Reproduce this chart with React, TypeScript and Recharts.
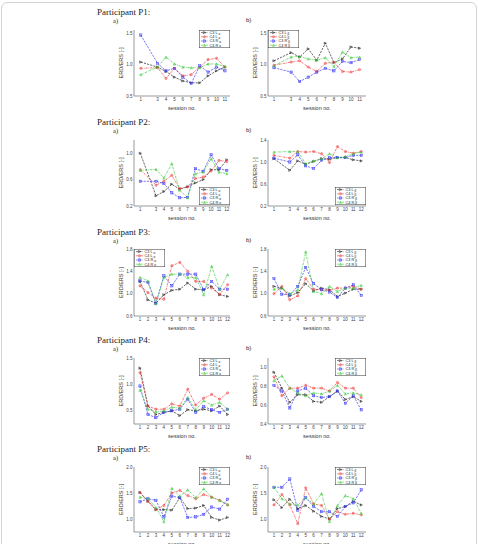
import React from "react";
import { LineChart, Line, XAxis, YAxis, Legend } from "recharts";

// session numbers (P1 has 11 sessions, P2 skips session 2)
const sessions11 = [1, 3, 4, 5, 6, 7, 8, 9, 10, 11];
const sessions12 = [1, 3, 4, 5, 6, 7, 8, 9, 10, 11, 12];
const sessionsAll = [1, 2, 3, 4, 5, 6, 7, 8, 9, 10, 11, 12];

// Participant P1
const p1aC3L = [1.04, 0.96, 0.89, 0.8, 0.74, 0.71, 0.71, 0.82, 0.9, 0.96];
const p1aC4L = [0.94, 0.95, 0.78, 0.94, 0.82, 0.84, 0.96, 1.08, 1.1, 0.96];
const p1aC3R = [1.47, 1.02, 0.9, 0.94, 0.8, 0.7, 0.98, 0.88, 0.96, 0.9];
const p1aC4R = [0.84, 0.96, 1.12, 1.01, 0.96, 0.95, 0.95, 1.01, 1.01, 0.97];
const p1bC3L = [1.06, 1.19, 1.12, 1.25, 1.07, 1.34, 1.03, 1.09, 1.28, 1.26];
const p1bC4L = [0.99, 1.04, 1.06, 0.96, 0.89, 1.02, 1.04, 0.89, 0.88, 0.92];
const p1bC3R = [0.95, 0.88, 0.73, 0.8, 0.88, 0.94, 0.9, 1.05, 1.03, 1.08];
const p1bC4R = [0.98, 1.12, 1.13, 1.09, 1.07, 1.11, 0.97, 1.2, 1.11, 1.12];

// Participant P2
const p2aC3L = [1.0, 0.355, 0.42, 0.53, 0.455, 0.49, 0.55, 0.6, 0.75, 0.75, 0.9];
const p2aC4L = [0.75, 0.515, 0.575, 0.665, 0.465, 0.49, 0.615, 0.64, 0.73, 0.89, 0.875];
const p2aC3R = [0.575, 0.575, 0.54, 0.4, 0.325, 0.33, 0.765, 0.725, 0.975, 0.765, 0.74];
const p2aC4R = [0.74, 0.755, 0.625, 0.84, 0.44, 0.325, 0.69, 0.715, 0.915, 0.715, 0.69];
const p2bC3L = [1.06, 0.85, 1.02, 0.96, 1.01, 1.06, 1.05, 1.08, 1.08, 1.04, 1.02];
const p2bC4L = [1.12, 1.07, 1.19, 1.18, 1.19, 1.15, 0.99, 1.28, 1.19, 1.16, 1.19];
const p2bC3R = [1.07, 1.0, 1.13, 0.93, 0.88, 1.03, 1.08, 1.08, 1.08, 1.12, 1.12];
const p2bC4R = [1.18, 1.19, 1.19, 0.97, 1.02, 1.06, 1.15, 1.08, 1.1, 1.15, 1.18];

// Participant P3
const p3aC3L = [1.22, 0.89, 0.83, 0.98, 1.06, 1.08, 1.19, 1.08, 1.07, 1.13, 0.98, 0.95];
const p3aC4L = [1.14, 1.02, 0.92, 0.9, 1.5, 1.56, 1.4, 1.22, 1.22, 1.1, 0.99, 1.16];
const p3aC3R = [1.23, 1.2, 0.83, 1.32, 1.14, 1.35, 1.35, 1.35, 1.07, 1.22, 1.08, 1.08];
const p3aC4R = [1.29, 1.23, 0.82, 1.29, 1.35, 1.35, 1.29, 1.29, 0.98, 1.49, 1.08, 1.34];
const p3bC3L = [1.13, 1.1, 0.96, 1.02, 1.18, 1.05, 1.1, 1.07, 0.95, 1.01, 1.08, 1.08];
const p3bC4L = [1.0, 1.13, 0.89, 0.96, 1.27, 1.08, 1.07, 1.06, 1.1, 1.1, 1.13, 1.08];
const p3bC3R = [1.27, 0.99, 0.98, 1.13, 1.47, 1.18, 1.07, 1.03, 0.93, 1.1, 1.16, 0.97];
const p3bC4R = [1.08, 1.1, 1.0, 1.07, 1.75, 1.04, 1.0, 1.13, 1.04, 1.1, 1.1, 1.15];

// Participant P4
const p4aC3L = [1.31, 0.59, 0.43, 0.47, 0.5, 0.41, 0.52, 0.5, 0.53, 0.5, 0.59, 0.43];
const p4aC4L = [1.22, 0.59, 0.53, 0.53, 0.63, 0.59, 0.91, 0.61, 0.74, 0.81, 0.72, 0.84];
const p4aC3R = [0.97, 0.43, 0.37, 0.47, 0.5, 0.53, 0.72, 0.47, 0.58, 0.52, 0.47, 0.53];
const p4aC4R = [0.89, 0.53, 0.48, 0.5, 0.57, 0.55, 0.75, 0.52, 0.69, 0.61, 0.66, 0.53];
const p4bC3L = [0.95, 0.78, 0.63, 0.71, 0.71, 0.64, 0.63, 0.69, 0.75, 0.66, 0.69, 0.64];
const p4bC4L = [0.9, 0.7, 0.78, 0.78, 0.81, 0.78, 0.78, 0.75, 0.84, 0.78, 0.78, 0.68];
const p4bC3R = [0.81, 0.75, 0.57, 0.75, 0.78, 0.7, 0.68, 0.69, 0.75, 0.62, 0.7, 0.55];
const p4bC4R = [0.86, 0.91, 0.78, 0.73, 0.7, 0.73, 0.72, 0.75, 0.81, 0.72, 0.73, 0.71];

// Participant P5
const p5aC3L = [1.51, 1.34, 1.18, 1.18, 1.17, 1.41, 1.2, 1.21, 1.26, 1.03, 0.98, 1.03];
const p5aC4L = [1.51, 1.34, 1.18, 1.26, 1.5, 1.55, 1.45, 1.39, 1.47, 1.42, 1.36, 1.27];
const p5aC3R = [1.33, 1.39, 1.36, 1.04, 1.44, 1.41, 1.03, 1.04, 1.09, 1.23, 1.19, 1.38];
const p5aC4R = [1.42, 1.39, 1.22, 0.95, 1.59, 1.44, 1.56, 1.41, 1.58, 1.42, 1.36, 1.28];
const p5bC3L = [1.37, 1.22, 1.38, 1.2, 1.26, 1.15, 1.05, 1.0, 1.2, 1.24, 1.34, 1.27];
const p5bC4L = [1.27, 1.47, 1.27, 0.91, 1.6, 1.29, 1.26, 1.0, 1.14, 1.09, 1.11, 1.08];
const p5bC3R = [1.61, 1.61, 1.77, 1.17, 1.41, 1.24, 1.14, 1.14, 1.05, 1.24, 1.31, 1.56];
const p5bC4R = [1.61, 1.39, 1.29, 1.27, 1.41, 1.29, 1.49, 0.95, 1.26, 1.45, 1.39, 1.11];

const SERIES = [
  { key: "c3l", name: "C3 L", color: "#262626", dash: "2.2 1.1", marker: "tri" },
  { key: "c4l", name: "C4 L", color: "#f03a3a", dash: "2.2 0.9 0.7 0.9", marker: "circle" },
  { key: "c3r", name: "C3 R", color: "#3c3cf5", dash: "2.2 1.1", marker: "square" },
  { key: "c4r", name: "C4 R", color: "#38cc38", dash: "2.2 0.9 0.7 0.9", marker: "utri" },
];

const FONT = "'Liberation Sans', Arial, sans-serif";

const marker = (shape: string, cx: number, cy: number, color: string, key?: any) => {
  const s = 1.15;
  if (shape === "square")
    return <rect key={key} x={cx - s} y={cy - s} width={2 * s} height={2 * s} fill={color} fillOpacity={0.4} stroke={color} strokeWidth={0.45} />;
  if (shape === "circle")
    return <circle key={key} cx={cx} cy={cy} r={s} fill={color} fillOpacity={0.4} stroke={color} strokeWidth={0.45} />;
  if (shape === "tri")
    return <polygon key={key} points={`${cx - s},${cy - s} ${cx + s},${cy} ${cx - s},${cy + s}`} fill={color} fillOpacity={0.4} stroke={color} strokeWidth={0.45} />;
  return <polygon key={key} points={`${cx},${cy - s} ${cx + s},${cy + s} ${cx - s},${cy + s}`} fill={color} fillOpacity={0.4} stroke={color} strokeWidth={0.45} />;
};

const makeDot = (shape: string, color: string) => (p: any) => {
  const { cx, cy, index } = p;
  if (cx == null || cy == null) return <g key={`d-${index}`} />;
  return marker(shape, cx, cy, color, `d-${index}`);
};

const LegendBox = ({ band }: { band: string }) => (
  <svg width={31} height={18} style={{ display: "block" }}>
    <rect x={0.25} y={0.25} width={30.5} height={17.5} fill="#fff" stroke="#333" strokeWidth={0.5} />
    {SERIES.map((s, i) => {
      const y = 2.6 + i * 4.2;
      return (
        <g key={s.key}>
          <line x1={2} x2={9} y1={y} y2={y} stroke={s.color} strokeWidth={0.6} strokeDasharray={s.dash} />
          {marker(s.marker, 5.5, y, s.color)}
          <text x={10.5} y={y + 1.4} fontSize={3.8} fill="#222" fontFamily={FONT}>
            {s.name} <tspan fontSize={3} dy={0.8}>{band}</tspan>
          </text>
        </g>
      );
    })}
  </svg>
);

const YW = 20;
const MT = 3;
const MR = 3;
const XH = 16;

type PanelProps = {
  x: number;
  y: number;
  w: number;
  h: number;
  sessions: number[];
  xDomain: [number, number];
  yDomain: [number, number];
  yTicks: number[];
  values: number[][];
  band: string;
  legend: "tr" | "tl" | "br";
};

const Panel = ({ x, y, w, h, sessions, xDomain, yDomain, yTicks, values, band, legend }: PanelProps) => {
  const rows = sessions.map((s, i) => ({
    s,
    c3l: values[0][i],
    c4l: values[1][i],
    c3r: values[2][i],
    c4r: values[3][i],
  }));
  const lx = legend === "tl" ? YW : YW + w - 31;
  const ly = legend === "br" ? MT + h - 19 : MT;
  const tickStyle = { fontSize: 4.5, fill: "#444", fontFamily: FONT };
  return (
    <div style={{ position: "absolute", left: x - YW, top: y - MT }}>
      <LineChart width={YW + w + MR} height={MT + h + XH} data={rows} margin={{ top: MT, right: MR, left: 0, bottom: 0 }}>
        <XAxis
          dataKey="s"
          type="number"
          domain={xDomain}
          ticks={sessions}
          interval={0}
          allowDataOverflow
          height={XH}
          tickLine={false}
          tickSize={0}
          tickMargin={1.5}
          tick={tickStyle}
          axisLine={{ stroke: "#555", strokeWidth: 0.6 }}
          label={{ value: "session no.", position: "insideBottom", offset: 2, style: { fontSize: 5.5, fill: "#333", fontFamily: FONT } }}
        />
        <XAxis xAxisId="top" dataKey="s" type="number" domain={xDomain} orientation="top" height={0} tick={false} tickLine={false} axisLine={{ stroke: "#555", strokeWidth: 0.6 }} />
        <YAxis
          type="number"
          domain={yDomain}
          ticks={yTicks}
          interval={0}
          allowDataOverflow
          width={YW}
          tickLine={false}
          tickSize={0}
          tickMargin={1.5}
          tick={tickStyle}
          tickFormatter={(v: number) => v.toFixed(1)}
          axisLine={{ stroke: "#555", strokeWidth: 0.6 }}
          label={{ value: "ERD/ERS [-]", angle: -90, position: "insideLeft", offset: 7, style: { textAnchor: "middle", fontSize: 5.5, fill: "#333", fontFamily: FONT } }}
        />
        <YAxis yAxisId="right" type="number" domain={yDomain} orientation="right" width={0} tick={false} tickLine={false} axisLine={{ stroke: "#555", strokeWidth: 0.6 }} />
        {SERIES.map((s) => (
          <Line
            key={s.key}
            type="linear"
            dataKey={s.key}
            stroke={s.color}
            strokeWidth={0.7}
            strokeDasharray={s.dash}
            dot={makeDot(s.marker, s.color)}
            activeDot={false}
            isAnimationActive={false}
          />
        ))}
        <Legend
          layout="horizontal"
          align="center"
          verticalAlign="middle"
          wrapperStyle={{ left: lx, top: ly, width: 31, height: 18 }}
          content={() => <LegendBox band={band} />}
        />
      </LineChart>
    </div>
  );
};

const AX = 134;
const AW = 96;
const BX = 268;
const BW = 98;

const rows = [
  { title: "Participant P1:", ty: 12, top: 30, h: 66, yA: [0.5, 1.55], tA: [0.5, 1.0, 1.5], yB: [0.5, 1.55], tB: [0.5, 1.0, 1.5], sA: sessions11, sB: sessions11, xA: [0.2, 11.6], xB: [0.3, 11.75], vA: [p1aC3L, p1aC4L, p1aC3R, p1aC4R], vB: [p1bC3L, p1bC4L, p1bC3R, p1bC4R], lA: "tr", lB: "tl" },
  { title: "Participant P2:", ty: 122, top: 140, h: 66, yA: [0.2, 1.2], tA: [0.2, 0.6, 1.0], yB: [0.2, 1.4], tB: [0.2, 0.6, 1.0, 1.4], sA: sessions12, sB: sessions12, xA: [0.2, 12.4], xB: [0.25, 12.6], vA: [p2aC3L, p2aC4L, p2aC3R, p2aC4R], vB: [p2bC3L, p2bC4L, p2bC3R, p2bC4R], lA: "br", lB: "br" },
  { title: "Participant P3:", ty: 232, top: 249, h: 67, yA: [0.6, 1.8], tA: [0.6, 1.0, 1.4, 1.8], yB: [0.6, 1.8], tB: [0.6, 1.0, 1.4, 1.8], sA: sessionsAll, sB: sessionsAll, xA: [0.25, 12.3], xB: [0.25, 12.6], vA: [p3aC3L, p3aC4L, p3aC3R, p3aC4R], vB: [p3bC3L, p3bC4L, p3bC3R, p3bC4R], lA: "tl", lB: "tr" },
  { title: "Participant P4:", ty: 340, top: 358, h: 66, yA: [0.25, 1.5], tA: [0.5, 1.0, 1.5], yB: [0.4, 1.1], tB: [0.4, 0.6, 0.8, 1.0], sA: sessionsAll, sB: sessionsAll, xA: [0.25, 12.3], xB: [0.25, 12.6], vA: [p4aC3L, p4aC4L, p4aC3R, p4aC4R], vB: [p4bC3L, p4bC4L, p4bC3R, p4bC4R], lA: "tr", lB: "tr" },
  { title: "Participant P5:", ty: 449, top: 467, h: 65, yA: [0.75, 2.0], tA: [1.0, 1.5, 2.0], yB: [0.75, 2.0], tB: [1.0, 1.5, 2.0], sA: sessionsAll, sB: sessionsAll, xA: [0.25, 12.3], xB: [0.25, 12.6], vA: [p5aC3L, p5aC4L, p5aC3R, p5aC4R], vB: [p5bC3L, p5bC4L, p5bC3R, p5bC4R], lA: "tr", lB: "tr" },
];

export default function App() {
  return (
    <div style={{ position: "absolute", left: 0, top: 0, width: 478, height: 544, background: "#fff", overflow: "hidden" }}>
      <div style={{ position: "absolute", left: 1, top: 2, width: 474, height: 600, border: "1px solid #d4d4d4", borderRadius: 6 }} />
      {rows.map((r) => (
        <React.Fragment key={r.title}>
          <div style={{ position: "absolute", left: 97, top: r.ty - 6, fontFamily: "'Liberation Serif', 'Times New Roman', serif", fontSize: 9, color: "#222", whiteSpace: "nowrap", lineHeight: "12px" }}>
            {r.title}
          </div>
          <div style={{ position: "absolute", left: 113, top: r.ty + 5, fontFamily: "'Liberation Serif', serif", fontSize: 6.5, color: "#222", lineHeight: "8px" }}>a)</div>
          <div style={{ position: "absolute", left: 246, top: r.ty + 4, fontFamily: FONT, fontSize: 6, color: "#222", lineHeight: "8px" }}>b)</div>
          <Panel x={AX} y={r.top} w={AW} h={r.h} sessions={r.sA} xDomain={r.xA as [number, number]} yDomain={r.yA as [number, number]} yTicks={r.tA} values={r.vA} band="α" legend={r.lA as any} />
          <Panel x={BX} y={r.top} w={BW} h={r.h} sessions={r.sB} xDomain={r.xB as [number, number]} yDomain={r.yB as [number, number]} yTicks={r.tB} values={r.vB} band="β" legend={r.lB as any} />
        </React.Fragment>
      ))}
    </div>
  );
}
